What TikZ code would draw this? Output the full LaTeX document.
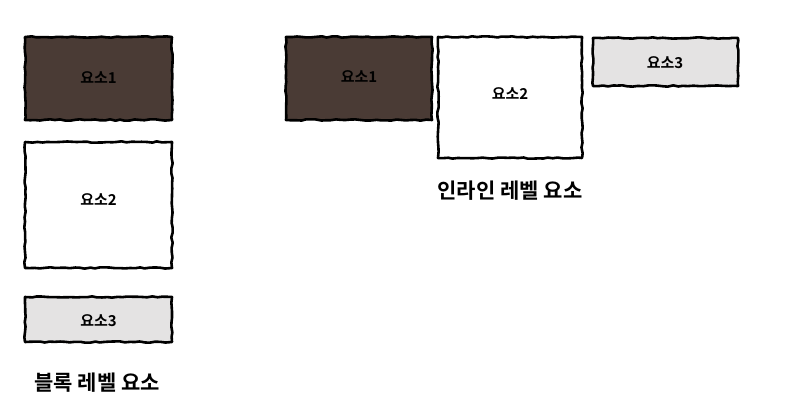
\documentclass[tikz,border=0pt]{standalone}
\usepackage{fontspec}
\newfontfamily\kr{Noto Sans CJK KR}[BoldFont={* Bold}]
\usetikzlibrary{decorations.pathmorphing}
\definecolor{darkbox}{HTML}{4A3B35}
\definecolor{lightbox}{HTML}{E4E3E3}
\tikzset{
  elbox/.style={draw=black, line width=2.6pt, line join=round,
    decorate, decoration={random steps, segment length=5pt, amplitude=0.7pt}},
  eltext/.style={font=\kr\bfseries\fontsize{15}{17}\selectfont, text=black},
  captext/.style={font=\kr\bfseries\fontsize{21}{23}\selectfont, text=black}
}
\begin{document}
\begin{tikzpicture}[x=1pt,y=-1pt]
\useasboundingbox (0,0) rectangle (799,418);
\pgfmathsetseed{7}
% block level
\path[elbox, fill=darkbox] (25,37) rectangle (172,120);
\node[eltext] (b1) at (98.5,78) {요소1};
\path[elbox, fill=white] (25,142) rectangle (172,268);
\node[eltext] (b2) at (98.5,200) {요소2};
\path[elbox, fill=lightbox] (25,297) rectangle (172,342);
\node[eltext] (b3) at (98.5,321) {요소3};
\node[captext] (bcap) at (97,383) {블록 레벨 요소};
% inline level
\path[elbox, fill=darkbox] (286,37) rectangle (432,120);
\node[eltext] (i1) at (359,77) {요소1};
\path[elbox, fill=white] (438,37) rectangle (582,158);
\node[eltext] (i2) at (510,94) {요소2};
\path[elbox, fill=lightbox] (593,38) rectangle (738,86);
\node[eltext] (i3) at (665,63) {요소3};
\node[captext] (icap) at (510,191) {인라인 레벨 요소};
\end{tikzpicture}
\end{document}
